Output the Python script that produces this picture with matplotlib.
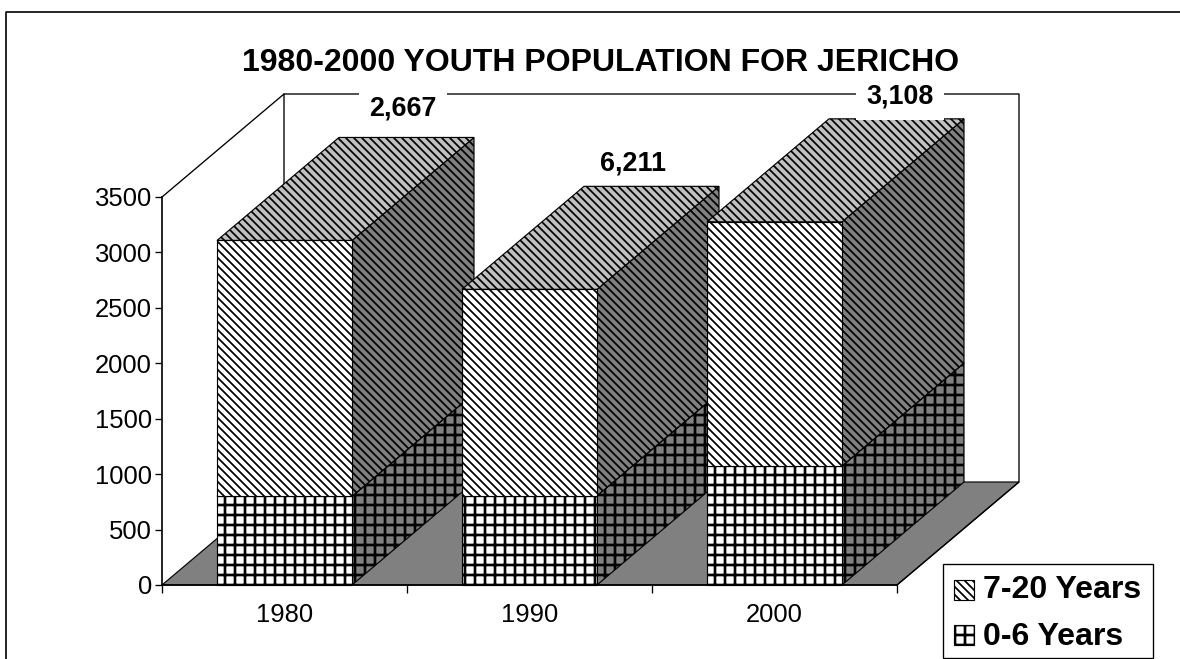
"""Stacked 3D style bars for Jericho youth population, drawn on a flat axes"""
import matplotlib
matplotlib.use('Agg')
import matplotlib.pyplot as plt
from matplotlib.patches import Polygon, Rectangle

years = ['1980', '1990', '2000']
ages_0_6 = [800, 805, 1074]
ages_7_20 = [2308, 1862, 2202]
bar_labels = ['2,667', '6,211', '3,108']
y_ticks = [0, 500, 1000, 1500, 2000, 2500, 3000, 3500]

W, H = 1180, 659
DPI = 120
STRIPES = '\\' * 5
CHECKS = '++'
# hatch width is read from rcParams when a patch gets created
HATCH_LW = {STRIPES: 1.05, CHECKS: 1.6}
plt.rcParams['font.family'] = ['Liberation Sans', 'DejaVu Sans']

fig = plt.figure(figsize=(W / DPI, H / DPI), dpi=DPI, facecolor='white')


def px_x(x):
    return x / W


def px_y(y):
    return 1 - y / H


# front plane of the chart: x 162-897, y 585-197 in pixels
ax = fig.add_axes([px_x(162), px_y(585), (897 - 162) / W, (585 - 197) / H])
ax.set_xlim(0, 3)
ax.set_ylim(0, 3500)
ax.patch.set_visible(False)

# oblique depth of the box, in data units
dx = 122 / 245
dy = 103 / (388 / 3500)
bar_w = 135 / 245


def face(pts, hatch=None, **kw):
    with plt.rc_context({'hatch.linewidth': HATCH_LW.get(hatch, 1.0)}):
        p = Polygon(pts, closed=True, clip_on=False, edgecolor='black', linewidth=0.7,
                    hatch=hatch, **kw)
    ax.add_patch(p)
    return p


# floor and walls
face([(0, 0), (3, 0), (3 + dx, dy), (dx, dy)], facecolor='#808080', zorder=1)
ax.plot([0, dx, dx], [3500, 3500 + dy, dy], color='black', lw=0.8, clip_on=False, zorder=1)
ax.plot([dx, 3 + dx, 3 + dx, 3], [3500 + dy, 3500 + dy, dy, 0], color='black', lw=0.8,
        clip_on=False, zorder=1)


def box(x0, y0, y1, hatch, z):
    x1 = x0 + bar_w
    # side, top, front
    face([(x1, y0), (x1 + dx, y0 + dy), (x1 + dx, y1 + dy), (x1, y1)],
         hatch=hatch, facecolor='#808080', zorder=z)
    face([(x0, y1), (x1, y1), (x1 + dx, y1 + dy), (x0 + dx, y1 + dy)],
         hatch=hatch, facecolor='#c0c0c0', zorder=z)
    face([(x0, y0), (x1, y0), (x1, y1), (x0, y1)],
         hatch=hatch, facecolor='white', zorder=z)


for i in range(len(years)):
    x0 = i + 0.5 - bar_w / 2
    z = 2 + i
    box(x0, 0, ages_0_6[i], CHECKS, z)
    box(x0, ages_0_6[i], ages_0_6[i] + ages_7_20[i], STRIPES, z + 0.5)

# axis
for s in ['top', 'right']:
    ax.spines[s].set_visible(False)
ax.spines['left'].set_linewidth(1.0)
ax.spines['bottom'].set_linewidth(1.0)
ax.set_yticks(y_ticks)
ax.set_xticks([0, 1, 2, 3])
ax.set_xticklabels([])
ax.set_xticks([0.5, 1.5, 2.5], minor=True)
ax.set_xticklabels(years, minor=True, fontsize=15.4)
ax.tick_params(axis='x', which='minor', length=0, pad=11)
ax.tick_params(axis='x', which='major', length=5, width=0.8)
ax.tick_params(axis='y', length=4, width=0.8, labelsize=15.4, pad=2)

# title and labels, the white box only matters where a label sits on a line
fig.text(px_x(601), px_y(63), '1980-2000 YOUTH POPULATION FOR JERICHO', ha='center', va='center',
         fontsize=19.2, fontweight='bold')
label_pos = [(403, 109), (633, 164), (900, 97)]
label_pad = [6, 2, 6]
for txt, (lx, ly), pad in zip(bar_labels, label_pos, label_pad):
    fig.text(px_x(lx), px_y(ly), txt, ha='center', va='center', fontsize=16.1, fontweight='bold',
             zorder=20, bbox=dict(facecolor='white', edgecolor='none', pad=pad))

# legend box
fig.add_artist(Rectangle((px_x(943), px_y(658)), 210 / W, 94 / H, transform=fig.transFigure,
                         facecolor='white', edgecolor='black', linewidth=0.8, zorder=10))
legend_rows = [('7-20 Years', STRIPES, 590, 590), ('0-6 Years', CHECKS, 637, 635)]
for name, hatch, ly, swatch_y in legend_rows:
    with plt.rc_context({'hatch.linewidth': HATCH_LW[hatch]}):
        swatch = Rectangle((px_x(954), px_y(swatch_y + 10)), 20 / W, 20 / H, transform=fig.transFigure,
                           facecolor='white', edgecolor='black', linewidth=0.7, hatch=hatch, zorder=11)
    fig.add_artist(swatch)
    fig.text(px_x(983), px_y(ly), name, ha='left', va='center', fontsize=19.3, fontweight='bold', zorder=12)

# outer frame, open at the bottom and right
frame = dict(color='black', lw=1.0, transform=fig.transFigure)
fig.add_artist(plt.Line2D([px_x(5.5), px_x(5.5), px_x(1180)],
                          [px_y(659), px_y(12), px_y(12)], **frame))

fig.savefig('out.png', dpi=DPI)
